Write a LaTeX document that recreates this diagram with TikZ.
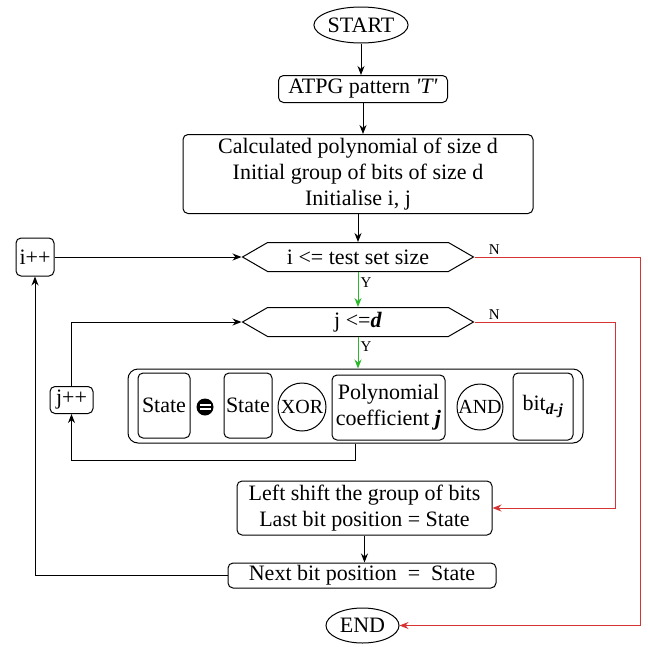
\documentclass[tikz,border=0pt]{standalone}
\usepackage{fontspec}
\setmainfont{Liberation Serif}
\usepackage{tikz}
\usetikzlibrary{arrows.meta,shapes.geometric,shapes.symbols}
\definecolor{noline}{HTML}{D63434}
\definecolor{yesline}{HTML}{2CB82C}

\begin{document}
\begin{tikzpicture}[>={Stealth[length=9pt,width=7pt]}, x=1pt, y=-1pt,
  every node/.style={font=\fontsize{22}{26}\selectfont},
  box/.style={draw, rounded corners=5pt, line width=1pt, inner sep=2pt, align=center},
  term/.style={draw, ellipse, line width=1pt, inner sep=0pt},
  op/.style={draw, circle, line width=1pt, inner sep=0pt, font=\fontsize{20}{24}\selectfont},
  decide/.style={draw, signal, signal to=east and west, signal pointer angle=60,
    line width=1pt, minimum width=231pt, minimum height=29pt, inner sep=0pt},
  link/.style={->, line width=1pt},
  tag/.style={font=\fontsize{15}{18}\selectfont, text=black, inner sep=2pt}]
  \useasboundingbox (0,0) rectangle (648,646);
  % start and set-up
  \node[term, minimum width=73pt, minimum height=36pt] (start) at (361,25) {START};
  \node[box, minimum width=169pt, minimum height=27pt, inner sep=0pt] (atpg) at (363,89) {ATPG pattern \textit{\textquotesingle T\textquotesingle}};
  \node[box, minimum width=350pt, minimum height=79pt] (init) at (358,174) {Calculated polynomial of size d\\Initial group of bits of size d\\Initialise i, j};
  % the two tests and counters
  \node[decide] (testi) at (358,257) {i <= test set size};
  \node[decide] (testj) at (358,322) {j <=\textbf{\textit{d}}};
  \node[box, minimum width=38pt, minimum height=38pt, inner sep=1pt] (incri) at (35,257) {i++};
  \node[box, minimum width=43pt, minimum height=27pt, inner sep=1pt] (incrj) at (71.5,400) {j++};
  % state update
  \node[box, rounded corners=10pt, minimum width=455pt, minimum height=74pt] (update) at (355.5,406) {};
  \node[box, minimum width=52pt, minimum height=65pt] (stnew) at (164,405.5) {State};
  \node[circle, fill=black, minimum size=17pt, inner sep=0pt] (eqsign) at (205,407) {};
  \fill[white] ([xshift=-5.5pt,yshift=0.9pt]eqsign.center) rectangle ([xshift=5.5pt,yshift=3.4pt]eqsign.center);
  \fill[white] ([xshift=-5.5pt,yshift=-0.9pt]eqsign.center) rectangle ([xshift=5.5pt,yshift=-3.4pt]eqsign.center);
  \node[box, minimum width=48pt, minimum height=65pt] (stold) at (248,405.5) {State};
  \node[op, minimum size=48pt] (xorop) at (302,407) {XOR};
  \node[box, minimum width=113pt, minimum height=65pt] (coef) at (388.5,407.5) {Polynomial\\coefficient \textbf{\textit{j}}};
  \node[op, minimum size=46pt] (andop) at (480,407) {AND};
  \node[box, minimum width=60pt, minimum height=67pt] (bitdj) at (543,406.5) {bit\textsubscript{\textbf{\textit{d-j}}}};
  % shift and end
  \node[box, minimum width=255pt, minimum height=54pt] (shift) at (364.5,508) {Left shift the group of bits\\Last bit position = State};
  \node[box, minimum width=268pt, minimum height=25pt, inner sep=0pt] (nextbit) at (362,575.5) {Next bit position \ = \ State};
  \node[term, minimum width=73pt, minimum height=35pt] (stop) at (362.5,625.5) {END};
  \coordinate (outer) at (640,0);
  \coordinate (inner) at (615,0);
  % flow
  \draw[link] (start.south) -- (start.south |- atpg.north);
  \draw[link] (atpg.south) -- (atpg.south |- init.north);
  \draw[link] (init.south) -- (init.south |- testi.north);
  \draw[link, yesline] (testi.south) -- (testj.north) node[tag, right, pos=0.3] {Y};
  \draw[link, yesline] (testj.south) -- (testj.south |- update.north) node[tag, right, pos=0.3] {Y};
  \draw[link] (incri.east) -- (testi.west);
  \draw[link] (update.south) -- ++(0,17) -| (incrj.south);
  \draw[link] (incrj.north) |- (testj.west);
  \draw[link] (shift.south) -- (shift.south |- nextbit.north);
  \draw[link] (nextbit.west) -| (incri.south);
  \draw[link, noline] (testi.east) -- (testi.east -| outer) node[tag, above, pos=0.12] {N} |- (stop.east);
  \draw[link, noline] (testj.east) -- (testj.east -| inner) node[tag, above, pos=0.14] {N} |- (shift.east);
\end{tikzpicture}
\end{document}
